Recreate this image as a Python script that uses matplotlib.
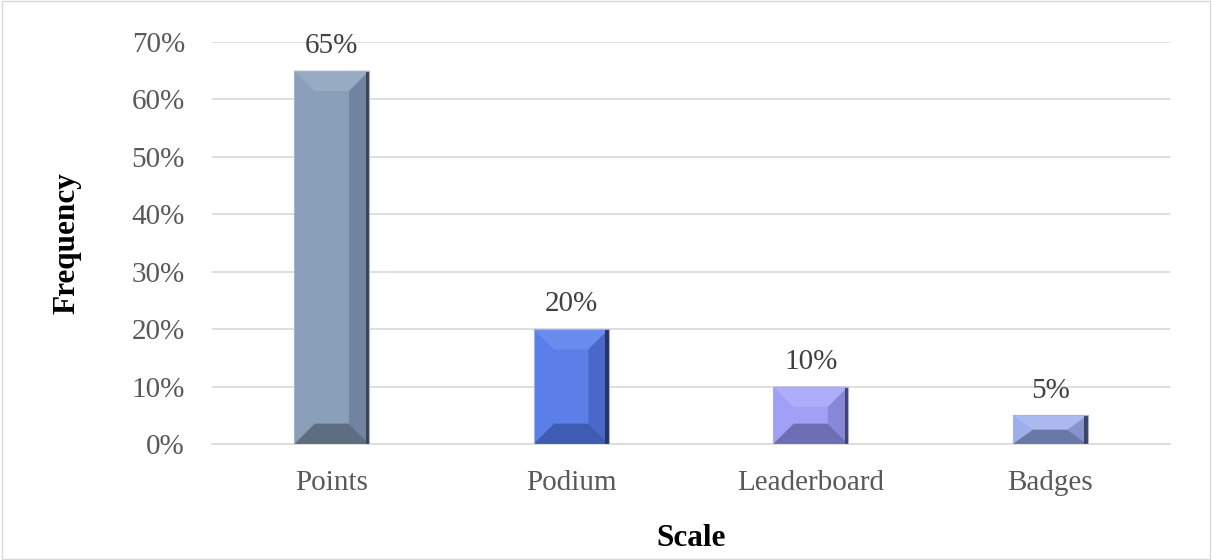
import matplotlib.pyplot as plt
from matplotlib.patches import Polygon, Rectangle
from matplotlib.ticker import PercentFormatter

# data
scales = ["Points", "Podium", "Leaderboard", "Badges"]
freq = [0.65, 0.20, 0.10, 0.05]
face = ["#8a9fb9", "#5b7ee8", "#a0a0f6", "#9eaeea"]
light = ["#97abc3", "#6a8cef", "#adadfa", "#abb9f0"]
side = ["#7285a0", "#4a68c9", "#8787d8", "#8494cc"]
dark = ["#5d6d82", "#3f5cb3", "#6e6eb5", "#6a78a8"]
darker = ["#3a4454", "#22346e", "#40407a", "#3a4466"]

plt.rcParams['font.family'] = ['Liberation Serif', 'DejaVu Serif']

fig = plt.figure(figsize=(12.12, 5.6), dpi=100)
ax = fig.add_axes([0.175, 0.2071, 0.7903, 0.7179])

w = 0.313
dx = 0.085
for i, v in enumerate(freq):
    x0, x1 = i - w / 2, i + w / 2
    dy = min(dx * 239.5 / 574, v / 2)
    ax.add_patch(Rectangle((x0, 0), w, v, facecolor=face[i], edgecolor="none", zorder=3))
    # bevelled edges: top, bottom, right
    ax.add_patch(Polygon([(x0, v), (x1, v), (x1 - dx, v - dy), (x0 + dx, v - dy)],
                         closed=True, facecolor=light[i], edgecolor="none", zorder=4))
    ax.add_patch(Polygon([(x0, 0), (x1, 0), (x1 - dx, dy), (x0 + dx, dy)],
                         closed=True, facecolor=dark[i], edgecolor="none", zorder=4))
    ax.add_patch(Polygon([(x1, 0), (x1, v), (x1 - dx, v - dy), (x1 - dx, dy)],
                         closed=True, facecolor=side[i], edgecolor="none", zorder=4))
    ax.add_patch(Rectangle((x1 - 0.014, 0), 0.014, v, facecolor=darker[i],
                           edgecolor="none", zorder=5))
    ax.add_patch(Rectangle((x0, 0), w, v, facecolor="none", edgecolor="#aab2c4",
                           linewidth=0.8, zorder=6))
    ax.text(i, v + 0.043, f"{int(round(v * 100))}%", ha="center", va="center",
            fontsize=21, color="#404040", zorder=7)

ax.set_xlim(-0.5, 3.5)
ax.set_ylim(0, 0.70)
ax.set_xticks(range(len(scales)))
ax.set_xticklabels(scales)
ax.set_yticks([i / 10 for i in range(8)])
ax.yaxis.set_major_formatter(PercentFormatter(1.0, decimals=0))
ax.tick_params(axis="both", length=0, labelsize=21, labelcolor="#595959")
ax.tick_params(axis="x", pad=19)
ax.tick_params(axis="y", pad=19.5)
ax.grid(axis="y", color="#d9d9d9", linewidth=1.2, zorder=0)
ax.set_axisbelow(True)
for s in ["top", "right", "left"]:
    ax.spines[s].set_visible(False)
ax.spines["bottom"].set_color("#d9d9d9")
ax.spines["bottom"].set_linewidth(1.2)

ax.set_xlabel("Scale", fontsize=22.5, fontweight="bold", labelpad=20)
ax.set_ylabel("Frequency", fontsize=22.5, fontweight="bold", labelpad=36)

fig.patches.append(Rectangle((0.0015, 0.002), 0.997, 0.996, transform=fig.transFigure,
                             fill=False, edgecolor="#d9d9d9", linewidth=1))

fig.savefig("out.png", dpi=100)
